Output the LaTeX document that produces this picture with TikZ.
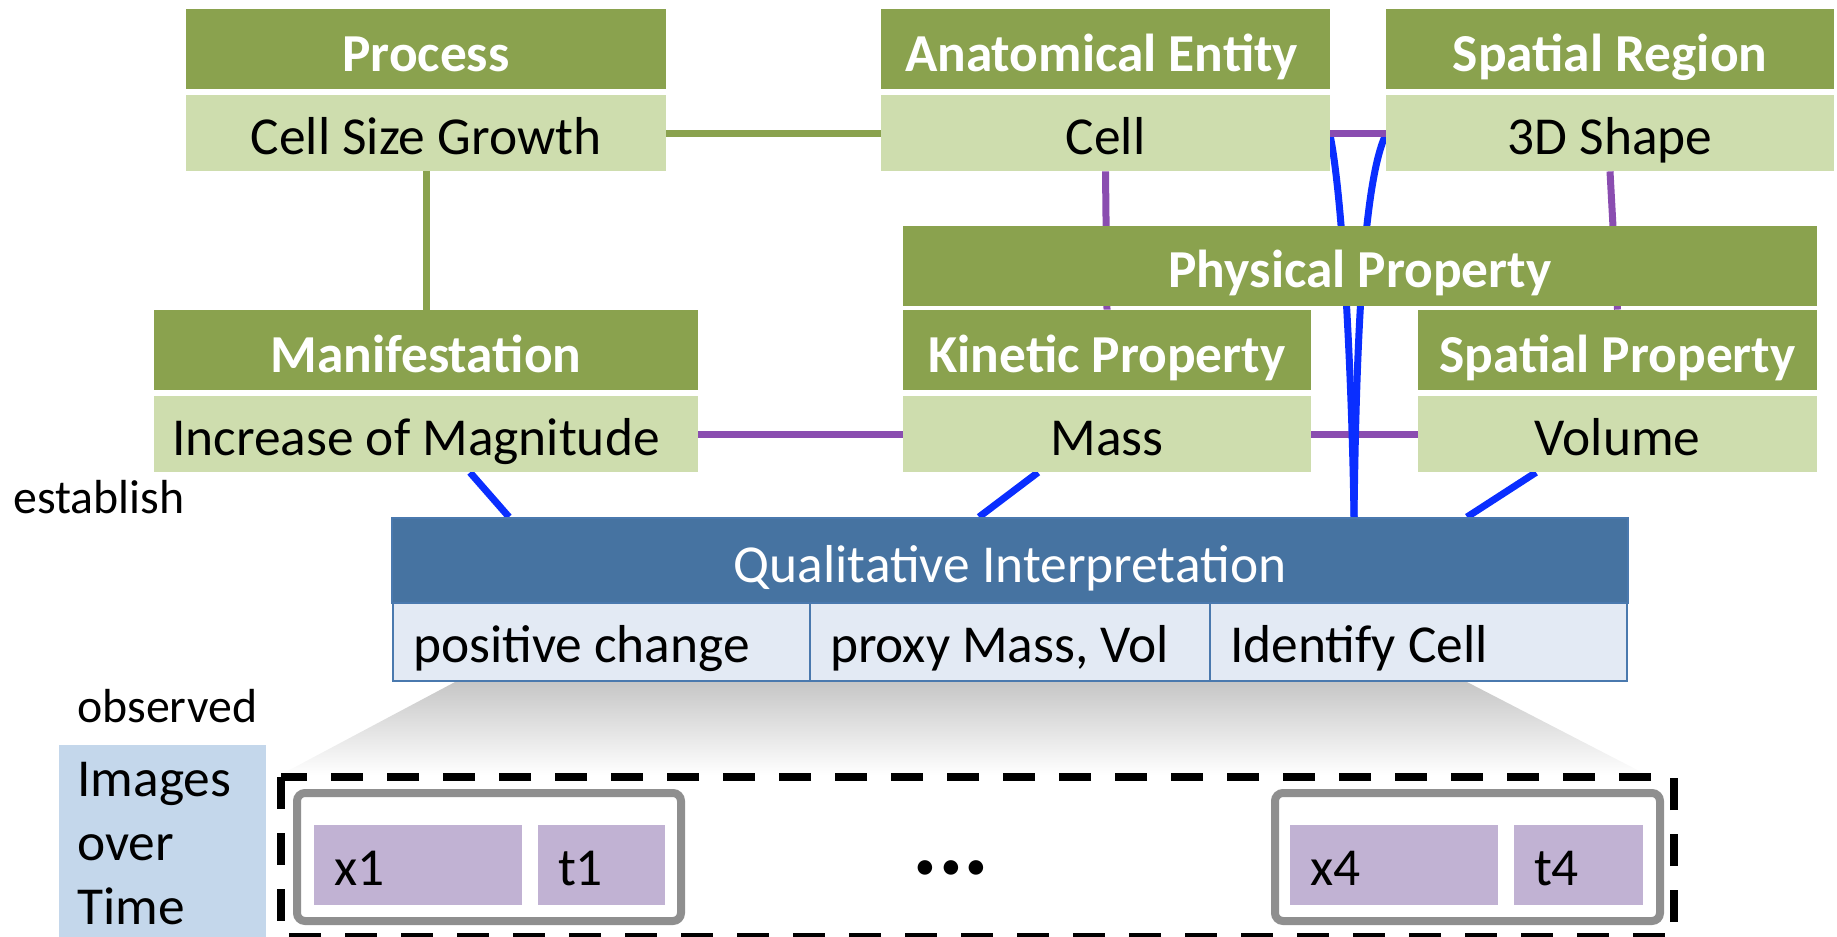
\documentclass[tikz,border=0pt]{standalone}
\usepackage{fontspec}
\setmainfont{Carlito}
\usetikzlibrary{backgrounds}
\newcommand{\fsA}{\fontsize{26.7pt}{33pt}\selectfont}
\newcommand{\fsB}{\fontsize{23.9pt}{29pt}\selectfont}
\newcommand{\fsDots}{\fontsize{51pt}{60pt}\selectfont}
\definecolor{cHdr}{HTML}{8AA24E}
\definecolor{cBdy}{HTML}{CEDDAE}
\definecolor{cPur}{HTML}{8A4DB0}
\definecolor{cBlu}{HTML}{0A2EFF}
\definecolor{cQhdr}{HTML}{4673A1}
\definecolor{cQbrd}{HTML}{4A79AE}
\definecolor{cQsub}{HTML}{E3EAF4}
\definecolor{cLav}{HTML}{C1B2D3}
\definecolor{cFrm}{HTML}{8F8F8F}
\definecolor{cIot}{HTML}{C4D7EB}
\definecolor{cGrad}{HTML}{C6C6C6}
\begin{document}
\begin{tikzpicture}[x=0.5pt,y=-0.5pt,
  hdr/.style={fill=cHdr, text=white, font=\fsA\bfseries, minimum height=40pt, inner sep=0pt, text height=22pt, text depth=0pt},
  bdy/.style={fill=cBdy, text=black, font=\fsA, minimum height=38pt, inner sep=0pt, text height=21pt, text depth=0pt},
  gline/.style={draw=cHdr, line width=3.5pt},
  pline/.style={draw=cPur, line width=3.5pt},
  bline/.style={draw=cBlu, line width=3.5pt},
  qsub/.style={fill=cQsub, draw=cQbrd, line width=1pt, font=\fsA, minimum height=39pt, inner ysep=0pt, inner xsep=10pt, text height=20pt, text depth=0pt},
  lav/.style={fill=cLav, font=\fsA, minimum height=40pt, inner ysep=0pt, inner xsep=10pt, text height=20pt, text depth=0pt},
  framebox/.style={draw=cFrm, line width=4pt, rounded corners=4pt, fill=white, inner sep=0pt},
  lbl/.style={font=\fsB, anchor=base west, inner sep=0pt},
  txt/.style={font=\fsA, anchor=base west, inner sep=0pt},
]
\useasboundingbox (0,0) rectangle (1837,937);

% gradient funnel
\shade[top color=cGrad, bottom color=white] (455,682) -- (1467,682) -- (1647,775) -- (280,775) -- cycle;

% ontology boxes
\node[hdr, minimum width=240pt] (procH) at (426,49) {Process};
\node[bdy, minimum width=240pt] (csg) at (426,133) {Cell Size Growth};
\node[hdr, minimum width=224.5pt] (anatH) at (1105.5,49) {\kern-4pt Anatomical Entity};
\node[bdy, minimum width=224.5pt] (cell) at (1105.5,133) {Cell};
\node[hdr, minimum width=224pt] (sregH) at (1610,49) {Spatial Region};
\node[bdy, minimum width=224pt] (shape) at (1610,133) {3D Shape};
\node[hdr, minimum width=457pt, text height=21pt] (physH) at (1360,266) {Physical Property};
\node[hdr, minimum width=272pt] (manH) at (426,350) {Manifestation};
\node[bdy, minimum width=272pt] (incr) at (426,434) {Increase of Magnitude\kern10pt};
\node[hdr, minimum width=204pt] (kinH) at (1107,350) {Kinetic Property};
\node[bdy, minimum width=204pt] (mass) at (1107,434) {Mass};
\node[hdr, minimum width=199.5pt] (sppH) at (1617.5,350) {Spatial Property};
\node[bdy, minimum width=199.5pt] (vol) at (1617.5,434) {Volume};

% qualitative interpretation
\node[fill=cQhdr, draw=cQbrd, line width=1pt, minimum width=618pt, minimum height=42.5pt, inner sep=0pt, text=white, font=\fsA, text height=21.5pt, text depth=0pt] (qi) at (1010,560.5) {Qualitative Interpretation};
\node[qsub] (q1) at (601.5,642) {\makebox[188.5pt][l]{positive change}};
\node[qsub] (q2) at (1010,642) {\makebox[180pt][l]{proxy Mass, Vol}};
\node[qsub] (q3) at (1418.5,642) {\makebox[188.5pt][l]{Identify Cell}};

% labels
\node[lbl] (est) at (13,513) {establish};
\node[lbl] (obs) at (77,722) {observed};

% images over time
\node[fill=cIot, minimum width=103.5pt, minimum height=97.5pt, inner sep=0pt] (iot) at (162.5,842.5) {};
\node[txt] (iot1) at (77,796) {Images};
\node[txt] (iot2) at (77,860) {over};
\node[txt] (iot3) at (77,924) {Time};

% dashed frame
\draw[black, line width=3.75pt, dash pattern=on 16pt off 12pt] (281,777) rectangle (1674,937);

\node[framebox, minimum width=192pt, minimum height=64pt] (f1) at (489,857) {};
\node[framebox, minimum width=192.5pt, minimum height=64pt] (f4) at (1467.5,857) {};
\node[lav] (x1) at (418,865) {\makebox[84pt][l]{x1}};
\node[lav] (t1) at (601.5,865) {\makebox[43.5pt][l]{t1}};
\node[lav] (x4) at (1394,865) {\makebox[84pt][l]{x4}};
\node[lav] (t4) at (1578.5,865) {\makebox[44.5pt][l]{t4}};
\node[font=\fsDots, anchor=base, inner sep=0pt] (dots) at (951,896) {···};

% connectors
\begin{pgfonlayer}{background}
\draw[gline] (csg.east) -- (cell.west);
\draw[gline] (csg.south) -- (manH.north);
\draw[pline] (cell.south) -- (kinH.north);
\draw[pline] (shape.south) -- (sppH.north);
\draw[pline] (incr.east) -- (mass.west);
\draw[pline] (mass.east) -- (vol.west);
\draw[bline] ([xshift=22pt]incr.south) -- ([xshift=-250.5pt]qi.north);
\draw[bline] ([xshift=-34.5pt]mass.south) -- ([xshift=-15.5pt]qi.north);
\draw[bline] ([xshift=-40.75pt]vol.south) -- ([xshift=228.5pt]qi.north);
\draw[bline] ([yshift=-2pt]cell.east) .. controls (1343,200) and (1352,380) .. ([xshift=172pt]qi.north);
\draw[bline] ([yshift=-1pt]shape.west) .. controls (1362,185) and (1356,360) .. ([xshift=172pt]qi.north);
\draw[pline] (cell.east) -- (shape.west);
\end{pgfonlayer}
\end{tikzpicture}
\end{document}
